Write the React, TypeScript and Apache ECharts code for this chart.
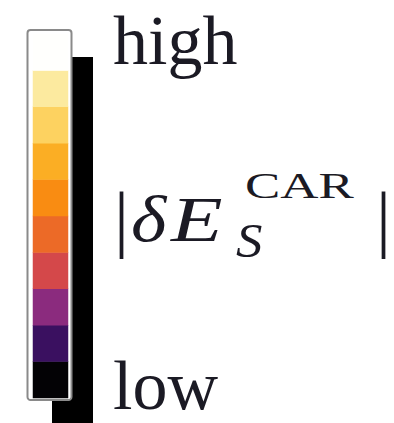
import React, { useEffect, useRef } from "react";
import * as echarts from "echarts";

// colorbar levels, bottom (low) to top (high)
const levels = ["1", "2", "3", "4", "5", "6", "7", "8", "9", "10"];
const levelColors = [
  "#030205",
  "#3a1060",
  "#8b2b7e",
  "#d4484a",
  "#ec6a27",
  "#f98c12",
  "#fbae24",
  "#fdd260",
  "#fcea9f",
  "#fffffd",
];
const labelHigh = "high";
const labelLow = "low";

export default function App() {
  const ref = useRef<HTMLDivElement>(null);
  useEffect(() => {
    if (!ref.current) return;
    const chart = echarts.init(ref.current, null, { renderer: "svg" });
    const serif = "Liberation Serif";
    const ink = "#1b1a24";
    chart.setOption({
      animation: false,
      backgroundColor: "#ffffff",
      grid: { left: 33, top: 34, width: 35, height: 364 },
      xAxis: { type: "category", data: ["bar"], show: false },
      yAxis: { type: "category", data: levels, show: false },
      visualMap: {
        type: "piecewise",
        show: false,
        dimension: 2,
        pieces: levelColors.map((c, i) => ({ value: i, color: c })),
      },
      series: [
        {
          type: "heatmap",
          z: 5,
          data: levels.map((_, i) => [0, i, i]),
          itemStyle: { borderWidth: 0 },
          emphasis: { disabled: true },
        },
      ],
      graphic: [
        {
          type: "rect",
          z: 0,
          shape: { x: 52, y: 57, width: 41, height: 370 },
          style: { fill: "#000000" },
        },
        {
          type: "rect",
          z: 1,
          shape: { x: 27.5, y: 30, width: 44, height: 370, r: 3 },
          style: { fill: "#ffffff", stroke: "#8a8a8a", lineWidth: 2 },
        },
        {
          type: "text",
          z: 10,
          x: 113,
          y: 40,
          style: { text: labelHigh, font: `70px "${serif}"`, fill: ink, textVerticalAlign: "middle" },
        },
        {
          type: "text",
          z: 10,
          x: 113,
          y: 385,
          style: { text: labelLow, font: `70px "${serif}"`, fill: ink, textVerticalAlign: "middle" },
        },
        {
          type: "text",
          z: 10,
          x: 114,
          y: 217,
          style: { text: "|", font: `75px "${serif}"`, fill: ink, textVerticalAlign: "middle" },
        },
        {
          type: "text",
          z: 10,
          x: 131,
          y: 219,
          scaleX: 1.15,
          style: { text: "δ", font: `italic 66px "${serif}"`, fill: ink, textVerticalAlign: "middle" },
        },
        {
          type: "text",
          z: 10,
          x: 171,
          y: 219,
          scaleX: 1.32,
          style: { text: "E", font: `italic 64px "${serif}"`, fill: ink, textVerticalAlign: "middle" },
        },
        {
          type: "text",
          z: 10,
          x: 245,
          y: 186,
          scaleX: 1.47,
          style: { text: "CAR", font: `36px "${serif}"`, fill: ink, textVerticalAlign: "middle" },
        },
        {
          type: "text",
          z: 10,
          x: 236,
          y: 241,
          scaleX: 1.1,
          style: { text: "S", font: `italic 48px "${serif}"`, fill: ink, textVerticalAlign: "middle" },
        },
        {
          type: "text",
          z: 10,
          x: 376,
          y: 217,
          style: { text: "|", font: `75px "${serif}"`, fill: ink, textVerticalAlign: "middle" },
        },
      ],
    });
    return () => chart.dispose();
  }, []);
  return (
    <div
      ref={ref}
      style={{ position: "fixed", left: 0, top: 0, width: 394, height: 423 }}
    />
  );
}
